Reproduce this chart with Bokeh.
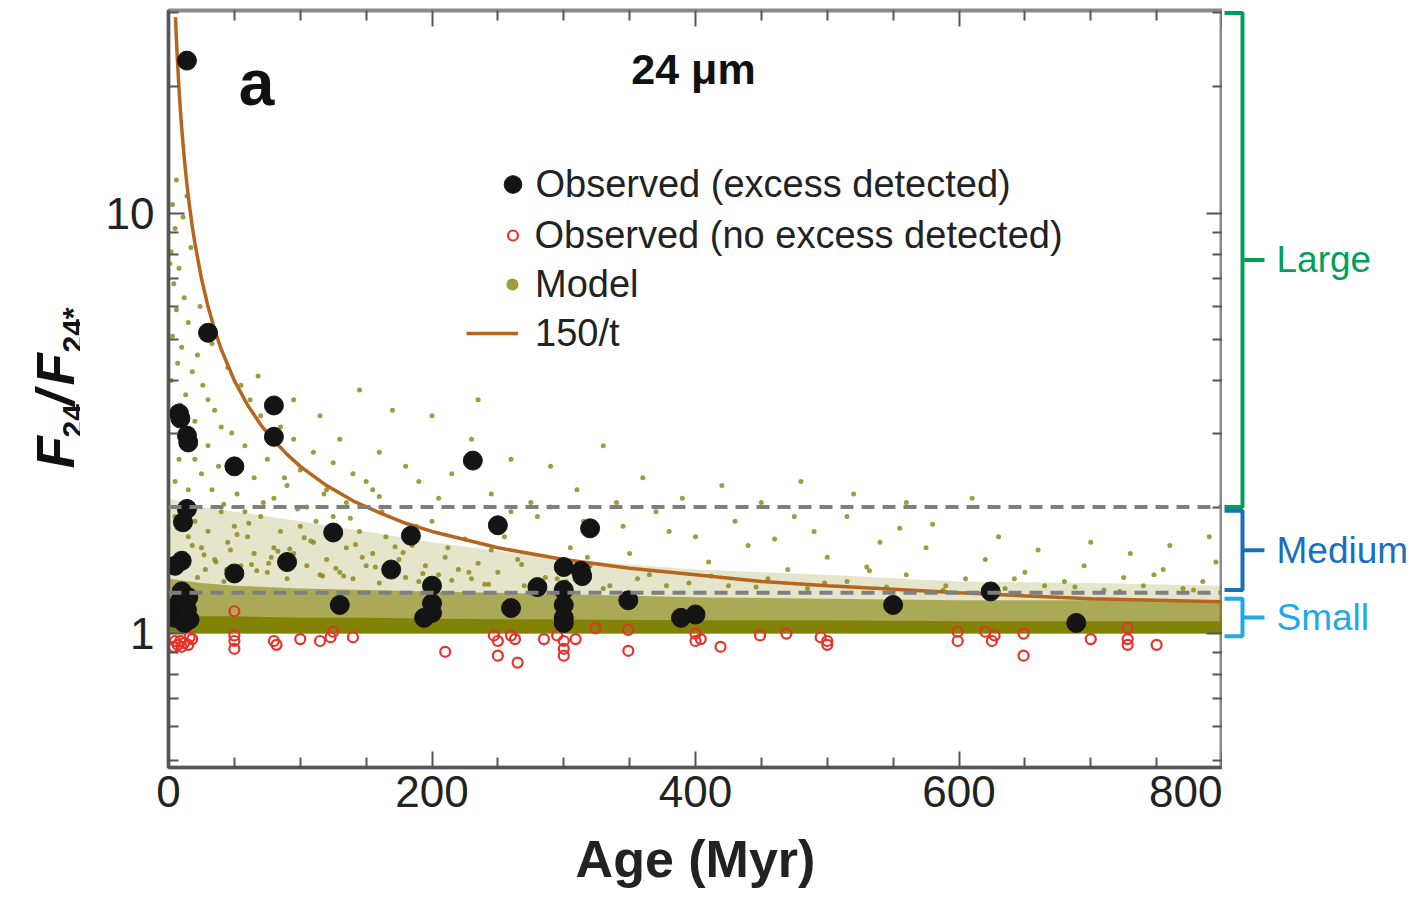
import math
from bokeh.plotting import figure
from bokeh.layouts import row
from bokeh.core.properties import value
from bokeh.models import (Range1d, FixedTicker, LinearAxis, LogAxis, Span, Label,
                          Legend, LegendItem)
from bokeh.embed import file_html
from bokeh.resources import INLINE

# ---------------- data ----------------
# Observed, excess detected
excess_age = [14, 30, 8, 9, 80, 80, 14, 15, 50, 231, 14, 11, 125, 184, 250, 320, 10, 5, 90, 50,
              169, 200, 280, 300, 313, 314, 300, 130, 260, 300, 300, 300, 200, 200, 194, 349,
              389, 400, 550, 624, 689, 5, 8, 12, 15, 10, 6, 12, 16, 9, 14]
excess_ratio = [23.1, 5.2, 3.34, 3.25, 3.49, 2.94, 2.96, 2.85, 2.50, 2.58, 1.98, 1.84, 1.74, 1.71,
                1.81, 1.78, 1.49, 1.45, 1.48, 1.39, 1.42, 1.30, 1.29, 1.44, 1.41, 1.37, 1.27,
                1.17, 1.15, 1.17, 1.09, 1.06, 1.18, 1.12, 1.09, 1.20, 1.09, 1.11, 1.17, 1.26,
                1.06, 1.09, 1.13, 1.10, 1.22, 1.26, 1.16, 1.06, 1.08, 1.20, 1.14]

# Observed, no excess detected
noexc_age = [5, 7, 9, 12, 15, 16, 10, 4, 18, 50, 50, 50, 50, 80, 82, 100, 115, 123, 125, 140,
             210, 247, 250, 250, 260, 263, 265, 285, 295, 300, 300, 300, 309, 324, 349, 349,
             400, 400, 404, 419, 449, 469, 495, 500, 500, 599, 599, 620, 625, 627, 649, 649,
             700, 728, 728, 728, 750]
noexc_ratio = [0.96, 0.94, 0.96, 0.95, 0.94, 0.98, 0.93, 0.93, 0.97, 1.13, 0.99, 0.96, 0.92,
               0.96, 0.94, 0.97, 0.96, 0.98, 1.01, 0.98, 0.905, 0.99, 0.96, 0.886, 0.99, 0.97,
               0.853, 0.97, 0.99, 0.96, 0.92, 0.886, 0.97, 1.03, 1.02, 0.91, 1.0, 0.96, 0.97,
               0.93, 0.99, 1.0, 0.98, 0.96, 0.94, 1.01, 0.96, 1.01, 0.96, 0.99, 1.0, 0.886,
               0.97, 1.03, 0.97, 0.94, 0.94]

# Model: dense band (lower edge, solid top, mottled top, sparse top)
band_age = [0, 25, 50, 100, 150, 200, 300, 400, 500, 600, 700, 800]
band_lo = [1.0, 1.0, 1.0, 1.0, 1.0, 1.0, 1.0, 1.0, 1.0, 1.0, 1.0, 1.0]
band_solid_hi = [1.11, 1.10, 1.10, 1.09, 1.09, 1.085, 1.08, 1.075, 1.075, 1.07, 1.07, 1.07]
band_mid_hi = [1.35, 1.32, 1.30, 1.28, 1.27, 1.26, 1.24, 1.22, 1.21, 1.20, 1.20, 1.20]
band_light_hi = [2.1, 2.0, 1.95, 1.85, 1.75, 1.65, 1.5, 1.42, 1.38, 1.33, 1.32, 1.3]

# Model: scattered points above the band
model_age = [3, 5, 2, 8, 4, 12, 6, 15, 3, 10, 22, 7, 18, 2, 26, 13, 30, 9, 4, 35, 20, 40, 1, 11,
             17, 6, 24, 28, 33, 14,
             45, 55, 62, 70, 48, 85, 95, 58, 110, 75, 125, 38, 100, 140, 65, 150, 90, 120, 52,
             160, 80, 135, 42, 105, 30, 25, 15, 8, 12, 5, 170, 145, 115, 130, 160, 95, 180, 190,
             155, 68, 88, 72, 118, 33, 20,
             200, 230, 215, 260, 290, 310, 245, 330, 360, 390, 420, 450, 480, 275, 205, 235, 340,
             520, 560, 610,
             5, 10, 15, 20, 25, 30, 35, 40, 45, 50, 55, 60, 65, 70, 75, 80, 85, 90, 95, 100, 105,
             110, 115, 120, 125, 130, 135, 140, 145, 150, 155, 160, 165, 170, 175, 180, 185, 190,
             195, 200, 205, 210, 215, 220, 225, 230, 235, 240, 245, 250, 12, 28, 42, 58, 78, 98,
             112, 138, 162, 188,
             255, 265, 280, 295, 305, 320, 335, 350, 365, 380, 395, 410, 425, 440, 455, 470, 485,
             500, 515, 530, 545, 560, 575, 590, 605, 620, 635, 650, 665, 680, 695, 710, 725, 740,
             755, 770, 785, 795, 260, 290, 315, 345, 370, 400, 430, 460, 490, 540, 580, 630, 660,
             700, 730, 760, 790, 270, 330, 475, 515, 555,
             18, 36, 52, 67, 83, 108, 127, 147, 172, 193, 22, 47, 63, 87, 103, 133, 157, 178,
             7, 27, 44, 61, 76, 92, 117, 142, 167, 198, 212, 228, 243, 268, 286, 302, 318, 356,
             378, 412, 446, 498, 532, 588, 642, 688, 722, 748, 778]
model_ratio = [10.5, 9.2, 8.1, 7.4, 6.8, 6.3, 5.9, 5.5, 5.1, 4.8, 4.6, 4.4, 4.2, 4.0, 3.9, 3.7,
               3.6, 3.5, 3.3, 3.4, 3.2, 3.1, 7.6, 9.8, 8.3, 12.0, 6.0, 5.2, 4.9, 11.0,
               4.3, 3.9, 3.6, 3.3, 3.0, 3.1, 2.9, 2.8, 2.7, 2.6, 2.55, 2.5, 2.45, 2.4, 2.35, 2.3,
               2.25, 2.2, 2.15, 2.12, 2.1, 2.05, 2.03, 2.0, 2.8, 2.4, 2.2, 2.6, 3.0, 2.3, 3.4,
               3.8, 3.3, 2.9, 2.7, 3.6, 2.5, 2.3, 2.2, 4.1, 2.35, 2.05, 2.15, 2.2, 2.6,
               3.3, 2.9, 2.4, 2.6, 2.5, 2.2, 2.15, 2.8, 2.35, 2.1, 2.25, 2.05, 2.3, 2.05, 2.1, 3.6,
               2.05, 2.15, 2.05, 2.1,
               1.9, 1.8, 1.7, 1.85, 1.6, 1.75, 1.5, 1.95, 1.65, 1.8, 1.45, 1.7, 1.55, 1.9, 1.4,
               1.6, 1.75, 1.35, 1.55, 1.8, 1.45, 1.65, 1.38, 1.5, 1.9, 1.4, 1.6, 1.35, 1.75, 1.45,
               1.55, 1.32, 1.7, 1.42, 1.5, 1.36, 1.62, 1.33, 1.45, 1.85, 1.38, 1.52, 1.34, 1.42,
               1.68, 1.35, 1.47, 1.31, 1.58, 1.4, 1.55, 1.42, 1.33, 1.95, 1.52, 1.98, 1.85, 1.88,
               1.95, 1.8,
               1.7, 1.5, 1.9, 1.35, 1.6, 1.45, 1.3, 1.55, 1.38, 1.75, 1.32, 1.48, 1.3, 1.62, 1.35,
               1.42, 1.28, 1.52, 1.33, 1.44, 1.29, 1.38, 1.6, 1.3, 1.35, 1.5, 1.28, 1.4, 1.3, 1.33,
               1.45, 1.27, 1.36, 1.3, 1.42, 1.28, 1.33, 1.48, 1.95, 2.0, 1.85, 1.8, 1.95, 1.7,
               1.85, 1.68, 1.75, 1.65, 1.82, 1.7, 1.58, 1.65, 1.55, 1.62, 1.7, 1.3, 1.28, 1.9,
               1.9, 1.78,
               1.62, 1.48, 1.72, 1.41, 1.57, 1.66, 1.43, 1.52, 1.61, 1.39, 1.36, 1.58, 1.46, 1.5,
               1.69, 1.37, 1.44, 1.56, 1.78, 1.54, 1.42, 1.83, 1.47, 1.59, 1.37, 1.63, 1.4, 1.34,
               1.6, 1.4, 1.31, 1.46, 1.36, 1.33, 1.52, 1.35, 1.3, 1.37, 1.29, 1.32, 1.41, 1.27,
               1.35, 1.29, 1.26, 1.38, 1.27]

# Fit curve "150/t" (plotted as 1 + 150/t)
curve_age = [5.3, 5.5, 6, 6.5, 7, 8, 9, 10, 12, 14, 16, 18, 20, 25, 30, 35, 40, 50, 60, 70, 80,
             90, 100, 120, 140, 160, 180, 200, 250, 300, 350, 400, 450, 500, 600, 700, 800]
curve_ratio = [29.3, 28.27, 26.0, 24.08, 22.43, 19.75, 17.67, 16.0, 13.5, 11.71, 10.38, 9.33,
               8.5, 7.0, 6.0, 5.29, 4.75, 4.0, 3.5, 3.14, 2.88, 2.67, 2.5, 2.25, 2.07, 1.94,
               1.83, 1.75, 1.6, 1.5, 1.43, 1.38, 1.33, 1.3, 1.25, 1.21, 1.19]

# Class thresholds and brackets
thresholds = [2.0, 1.25]
class_names = ["Large", "Medium", "Small"]
class_lo = [2.0, 1.27, 0.985]
class_hi = [30.0, 1.96, 1.21]
class_colors = ["#00a05a", "#1a6fbd", "#1eaae6"]

x_ticks = [0, 200, 400, 600, 800]
x_minor = [50, 100, 150, 250, 300, 350, 450, 500, 550, 650, 700, 750]
y_ticks = [1, 10]
y_minor = [0.5, 0.6, 0.7, 0.8, 0.9, 2, 3, 4, 5, 6, 7, 8, 9, 20, 30]
y_tick_labels = {1: "1", 10: "10"}

# ---------------- layout constants ----------------
FONT = "Liberation Sans"
X0, X1 = 0, 800
Y0, Y1 = 0.48, 30.4
FL, FT, FW, FH = 168, 10, 1054, 757   # frame left/top/width/height in page px
LW = 80                               # width of the y-title strip


def px_x(px):
    return X0 + (px - FL) / FW * (X1 - X0)


def px_y(py):
    lo, hi = math.log10(Y0), math.log10(Y1)
    return 10 ** (hi - (py - FT) / FH * (hi - lo))


y_range = Range1d(Y0, Y1)
p = figure(x_range=Range1d(X0, X1), y_range=y_range, y_axis_type="log",
           frame_width=FW, frame_height=FH, min_border_left=FL - LW, min_border_top=FT,
           min_border_bottom=137, min_border_right=0,
           output_backend="svg", toolbar_location=None,
           background_fill_color="white", border_fill_color="white")
p.grid.visible = False
p.outline_line_color = "#8a8a8a"
p.outline_line_width = 4


def style_ticks(ax):
    ax.major_tick_in = 16
    ax.major_tick_out = 0
    ax.minor_tick_in = 10
    ax.minor_tick_out = 0
    ax.major_tick_line_color = "#555555"
    ax.minor_tick_line_color = "#555555"
    ax.major_tick_line_width = 2
    ax.minor_tick_line_width = 2


for ax in [p.xaxis[0], p.yaxis[0]]:
    ax.axis_line_color = "#555555"
    ax.axis_line_width = 3
    style_ticks(ax)
    ax.major_label_text_font = FONT
    ax.major_label_text_font_size = "44px"
    ax.major_label_text_color = "#222222"

p.xaxis[0].ticker = FixedTicker(ticks=x_ticks, minor_ticks=x_minor)
p.yaxis[0].ticker = FixedTicker(ticks=y_ticks, minor_ticks=y_minor)
p.yaxis[0].major_label_overrides = y_tick_labels
p.xaxis[0].major_label_standoff = 8
p.yaxis[0].major_label_standoff = 14
p.xaxis[0].axis_label = "Age (Myr)"
p.xaxis[0].axis_label_text_font = FONT
p.xaxis[0].axis_label_text_font_size = "52px"
p.xaxis[0].axis_label_text_font_style = "bold"
p.xaxis[0].axis_label_text_color = "#222222"
p.xaxis[0].axis_label_standoff = 20

# mirrored ticks top and right (labels hidden)
top_ax = LinearAxis(ticker=FixedTicker(ticks=x_ticks, minor_ticks=x_minor))
right_ax = LogAxis(ticker=FixedTicker(ticks=y_ticks, minor_ticks=y_minor))
for ax in [top_ax, right_ax]:
    ax.axis_line_alpha = 0
    style_ticks(ax)
    ax.major_label_text_font_size = "2px"
    ax.major_label_text_alpha = 0
    ax.major_label_standoff = 0
p.add_layout(top_ax, "above")
p.add_layout(right_ax, "right")

# model band
olive = "#7f7f00"
p.varea(x=band_age, y1=band_lo, y2=band_light_hi, fill_color=olive, fill_alpha=0.2)
p.varea(x=band_age, y1=band_lo, y2=band_mid_hi, fill_color=olive, fill_alpha=0.58)
p.varea(x=band_age, y1=band_lo, y2=band_solid_hi, fill_color=olive, fill_alpha=0.92)
r_model = p.scatter(x=model_age, y=model_ratio, marker="circle", size=5,
                    fill_color="#858510", line_color=None, fill_alpha=0.8)

# thresholds
for t in thresholds:
    p.add_layout(Span(location=t, dimension="width", line_color="#7f7f7f",
                      line_width=4, line_dash="13 8"))

# curve
r_curve = p.line(x=curve_age, y=curve_ratio, line_color="#b5651d", line_width=3.5)

# observations
r_noexc = p.scatter(x=noexc_age, y=noexc_ratio, marker="circle", size=10,
                    fill_color=None, line_color="#e8312a", line_width=2.2)
r_exc = p.scatter(x=excess_age, y=excess_ratio, marker="circle", size=19,
                  fill_color="#141414", line_color="#141414")


# legends (one per item, to control glyph size)
def add_leg(renderer, text, gw, left_px, center_py, standoff):
    h = 44
    leg = Legend(items=[LegendItem(label=text, renderers=[renderer])],
                 location=(left_px - FL, (FT + FH) - (center_py + h / 2)),
                 glyph_width=gw, glyph_height=h, label_height=h,
                 label_standoff=standoff, padding=0, margin=0, spacing=0,
                 border_line_alpha=0, background_fill_alpha=0,
                 label_text_font=FONT, label_text_font_size="38px",
                 label_text_color="#222222")
    p.add_layout(leg)


add_leg(r_exc, "Observed (excess detected)", 45, 489.5, 184, 1)
add_leg(r_noexc, "Observed (no excess detected)", 25, 499.5, 235, 10)
add_leg(r_model, "Model", 30, 497, 284, 8)
add_leg(r_curve, "150/t", 52, 466, 333, 17)

# texts inside the frame
p.add_layout(Label(x=px_x(693), y=px_y(68), text="24 μm", text_font=FONT,
                   text_font_size="43px", text_font_style="bold", text_color="#111111",
                   text_align="center", text_baseline="middle"))
p.add_layout(Label(x=px_x(256), y=px_y(82), text="a", text_font=FONT,
                   text_font_size="64px", text_font_style="bold", text_color="#111111",
                   text_align="center", text_baseline="middle"))

# ---------------- left strip with the y-axis title F24/F24* ----------------
yt = figure(x_range=Range1d(0, LW), y_range=y_range, y_axis_type="log",
            frame_width=LW, frame_height=FH, min_border_left=0, min_border_right=0,
            min_border_top=FT, min_border_bottom=137,
            x_axis_location=None, y_axis_location=None,
            output_backend="svg", toolbar_location=None, outline_line_color=None,
            background_fill_color="white", border_fill_color="white")
yt.grid.visible = False
# (text, baseline x px, start-of-text y px, size, style)
ytitle = [("F", 55, 468, "53px", "bold italic"),
          ("24", 72, 437, "30px", "bold"),
          ("/", 55, 405, "53px", "bold italic"),
          ("F", 55, 385, "53px", "bold italic"),
          ("24*", 72, 352, "30px", "bold")]
for txt, bx, sy, fs, st in ytitle:
    yt.add_layout(Label(x=bx, y=px_y(sy), text=txt, angle=math.pi / 2,
                        text_font=FONT, text_font_size=fs, text_font_style=st,
                        text_color="#111111", text_align="left",
                        text_baseline="alphabetic"))

# ---------------- right panel with size-class brackets ----------------
RW = 1423 - 1226
q = figure(x_range=Range1d(0, RW), y_range=y_range, y_axis_type="log",
           frame_width=RW, frame_height=FH, min_border_left=0, min_border_right=0,
           min_border_top=FT, min_border_bottom=137,
           x_axis_location=None, y_axis_location=None,
           output_backend="svg", toolbar_location=None, outline_line_color=None,
           background_fill_color="white", border_fill_color="white")
q.grid.visible = False
for name, lo, hi, col in zip(class_names, class_lo, class_hi, class_colors):
    mid = math.sqrt(lo * hi)
    q.line(x=[2, 20, 20, 2], y=[hi, hi, lo, lo], line_color=col, line_width=4)
    q.line(x=[20, 42], y=[mid, mid], line_color=col, line_width=4)
    q.text(x=[54], y=[mid], text=[name], text_font=value(FONT), text_font_size="37px",
           text_color=col, text_align="left", text_baseline="middle")

layout = row(yt, p, q, spacing=0)
open("out.html", "w").write(file_html(layout, INLINE))
